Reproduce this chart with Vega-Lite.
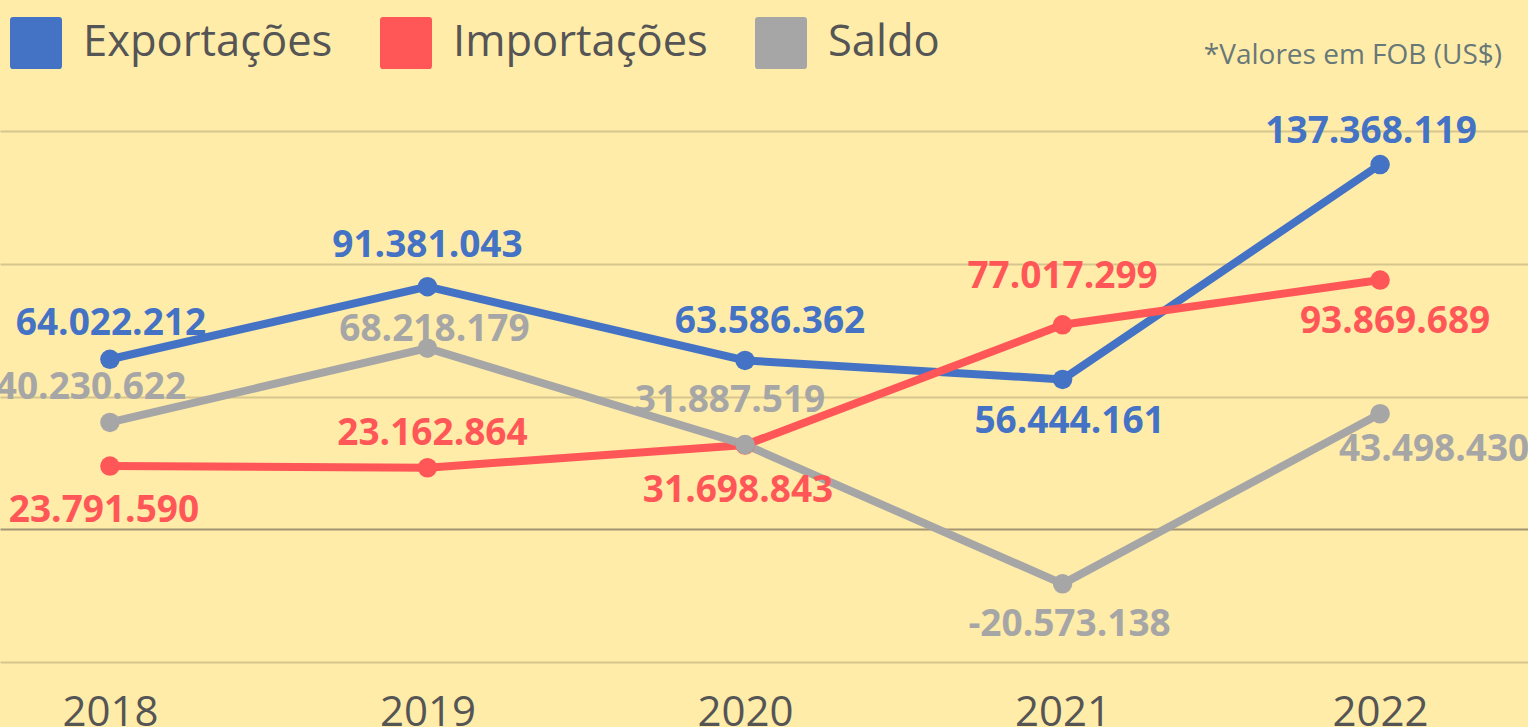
{
  "$schema": "https://vega.github.io/schema/vega-lite/v6.json",
  "autosize": "none",
  "width": 1528,
  "height": 531,
  "padding": {"left": 0, "top": 131, "right": 0, "bottom": 65},
  "background": "#FFECA9",
  "config": {
    "locale": {"number": {"decimal": ",", "thousands": ".", "grouping": [3], "currency": ["", ""], "minus": "-"}},
    "view": {"stroke": null},
    "font": "Open Sans",
    "text": {"font": "Open Sans", "fontSize": 37, "fontWeight": "bold", "baseline": "alphabetic", "align": "center"},
    "legend": {
      "orient": "none",
      "legendX": 10,
      "legendY": -114,
      "direction": "horizontal",
      "padding": 0,
      "symbolType": "M-0.88,-1 H0.88 Q1,-1 1,-0.88 V0.88 Q1,1 0.88,1 H-0.88 Q-1,1 -1,0.88 V-0.88 Q-1,-1 -0.88,-1 Z",
      "symbolSize": 2704,
      "symbolStrokeWidth": 0,
      "symbolOpacity": 1,
      "labelFont": "Open Sans",
      "labelFontSize": 43.5,
      "labelColor": "#555555",
      "labelOffset": 21,
      "labelLimit": 500,
      "columnPadding": 47
    }
  },
  "title": {
    "text": "*Valores em FOB (US$)",
    "anchor": "end",
    "frame": "group",
    "font": "Open Sans",
    "fontSize": 28,
    "fontWeight": "normal",
    "color": "#687878",
    "baseline": "alphabetic",
    "offset": -75,
    "dx": -26
  },
  "data": {
    "values": [
      {"ano": "2018", "serie": "Exportações", "valor": 64022212},
      {"ano": "2019", "serie": "Exportações", "valor": 91381043},
      {"ano": "2020", "serie": "Exportações", "valor": 63586362},
      {"ano": "2021", "serie": "Exportações", "valor": 56444161},
      {"ano": "2022", "serie": "Exportações", "valor": 137368119},
      {"ano": "2018", "serie": "Importações", "valor": 23791590},
      {"ano": "2019", "serie": "Importações", "valor": 23162864},
      {"ano": "2020", "serie": "Importações", "valor": 31698843},
      {"ano": "2021", "serie": "Importações", "valor": 77017299},
      {"ano": "2022", "serie": "Importações", "valor": 93869689},
      {"ano": "2018", "serie": "Saldo", "valor": 40230622},
      {"ano": "2019", "serie": "Saldo", "valor": 68218179},
      {"ano": "2020", "serie": "Saldo", "valor": 31887519},
      {"ano": "2021", "serie": "Saldo", "valor": -20573138},
      {"ano": "2022", "serie": "Saldo", "valor": 43498430}
    ]
  },
  "encoding": {
    "x": {
      "field": "ano", "type": "ordinal",
      "scale": {"type": "point", "padding": 0.406, "align": 0.4264},
      "axis": {"title": null, "domain": false, "ticks": false, "labelAngle": 0, "labelFont": "Open Sans", "labelFontSize": 42, "labelColor": "#555555", "labelPadding": 30, "grid": false}
    },
    "y": {
      "field": "valor", "type": "quantitative",
      "scale": {"domain": [-50000000, 150000000], "nice": false, "zero": false},
      "axis": {
        "title": null, "labels": false, "ticks": false, "domain": false, "grid": true,
        "values": [-50000000, 0, 50000000, 100000000, 150000000],
        "gridColor": {"condition": {"test": "datum.value === 0", "value": "#A39474"}, "value": "#D6C58E"},
        "gridWidth": 2
      }
    },
    "color": {
      "field": "serie", "type": "nominal",
      "scale": {"domain": ["Exportações", "Importações", "Saldo"], "range": ["#4472C4", "#FF5757", "#A6A6A6"]},
      "legend": {
        "title": null,
        "encode": {
          "symbols": {
            "update": {
              "fill": {"scale": "color", "field": "value"},
              "stroke": {"value": "transparent"},
              "opacity": {"value": 1},
              "size": {"value": 2704},
              "shape": {"value": "M-0.88,-1 H0.88 Q1,-1 1,-0.88 V0.88 Q1,1 0.88,1 H-0.88 Q-1,1 -1,0.88 V-0.88 Q-1,-1 -0.88,-1 Z"}
            }
          }
        }
      }
    }
  },
  "layer": [
    {"mark": {"type": "line", "strokeWidth": 8, "strokeJoin": "round", "strokeCap": "round"}},
    {"mark": {"type": "point", "filled": true, "size": 380, "opacity": 1}},
    {"transform": [{"filter": "datum.serie=='Exportações' && datum.ano=='2018'"}], "mark": {"type": "text", "dx": 1, "dy": -24}, "encoding": {"text": {"field": "valor", "type": "quantitative", "format": ",d"}}},
    {"transform": [{"filter": "datum.serie=='Exportações' && datum.ano=='2019'"}], "mark": {"type": "text", "dx": 0, "dy": -30}, "encoding": {"text": {"field": "valor", "type": "quantitative", "format": ",d"}}},
    {"transform": [{"filter": "datum.serie=='Exportações' && datum.ano=='2020'"}], "mark": {"type": "text", "dx": 25, "dy": -27}, "encoding": {"text": {"field": "valor", "type": "quantitative", "format": ",d"}}},
    {"transform": [{"filter": "datum.serie=='Exportações' && datum.ano=='2021'"}], "mark": {"type": "text", "dx": 7, "dy": 54}, "encoding": {"text": {"field": "valor", "type": "quantitative", "format": ",d"}}},
    {"transform": [{"filter": "datum.serie=='Exportações' && datum.ano=='2022'"}], "mark": {"type": "text", "dx": -9, "dy": -22}, "encoding": {"text": {"field": "valor", "type": "quantitative", "format": ",d"}}},
    {"transform": [{"filter": "datum.serie=='Importações' && datum.ano=='2018'"}], "mark": {"type": "text", "dx": -6, "dy": 56}, "encoding": {"text": {"field": "valor", "type": "quantitative", "format": ",d"}}},
    {"transform": [{"filter": "datum.serie=='Importações' && datum.ano=='2019'"}], "mark": {"type": "text", "dx": 5, "dy": -23}, "encoding": {"text": {"field": "valor", "type": "quantitative", "format": ",d"}}},
    {"transform": [{"filter": "datum.serie=='Importações' && datum.ano=='2020'"}], "mark": {"type": "text", "dx": -7, "dy": 57}, "encoding": {"text": {"field": "valor", "type": "quantitative", "format": ",d"}}},
    {"transform": [{"filter": "datum.serie=='Importações' && datum.ano=='2021'"}], "mark": {"type": "text", "dx": 0, "dy": -37}, "encoding": {"text": {"field": "valor", "type": "quantitative", "format": ",d"}}},
    {"transform": [{"filter": "datum.serie=='Importações' && datum.ano=='2022'"}], "mark": {"type": "text", "dx": 15, "dy": 53}, "encoding": {"text": {"field": "valor", "type": "quantitative", "format": ",d"}}},
    {"transform": [{"filter": "datum.serie=='Saldo' && datum.ano=='2018'"}], "mark": {"type": "text", "dx": -19, "dy": -23}, "encoding": {"text": {"field": "valor", "type": "quantitative", "format": ",d"}}},
    {"transform": [{"filter": "datum.serie=='Saldo' && datum.ano=='2019'"}], "mark": {"type": "text", "dx": 7, "dy": -7}, "encoding": {"text": {"field": "valor", "type": "quantitative", "format": ",d"}}},
    {"transform": [{"filter": "datum.serie=='Saldo' && datum.ano=='2020'"}], "mark": {"type": "text", "dx": -15, "dy": -33}, "encoding": {"text": {"field": "valor", "type": "quantitative", "format": ",d"}}},
    {"transform": [{"filter": "datum.serie=='Saldo' && datum.ano=='2021'"}], "mark": {"type": "text", "dx": 7, "dy": 52}, "encoding": {"text": {"field": "valor", "type": "quantitative", "format": ",d"}}},
    {"transform": [{"filter": "datum.serie=='Saldo' && datum.ano=='2022'"}], "mark": {"type": "text", "dx": 54, "dy": 47}, "encoding": {"text": {"field": "valor", "type": "quantitative", "format": ",d"}}}
  ]
}
